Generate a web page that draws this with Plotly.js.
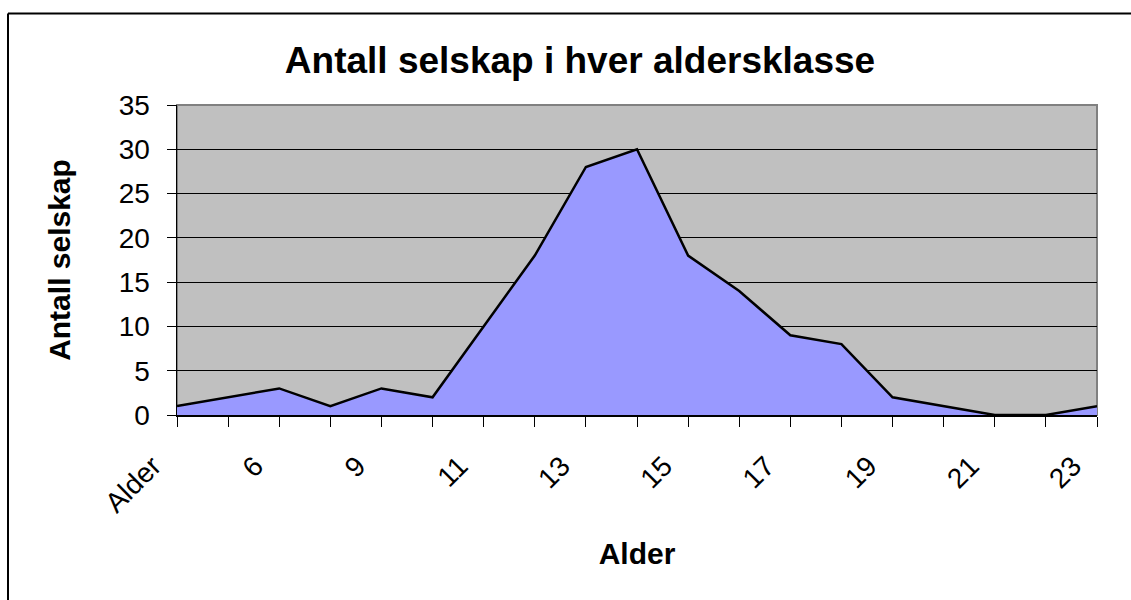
<!DOCTYPE html>
<html>
<head>
<meta charset="utf-8">
<script src="https://cdn.plot.ly/plotly-3.0.1.min.js"></script>
<style>html,body{margin:0;padding:0;background:#fff;}#chart{width:1131px;height:600px;}</style>
</head>
<body>
<div id="chart"></div>
<script>
// Age classes (every other label shown on the axis)
const categories = ['Alder','5','6','8','9','10','11','12','13','14','15','16','17','18','19','20','21','22','23'];
// Number of companies in each age class
const counts = [1, 2, 3, 1, 3, 2, 10, 18, 28, 30, 18, 14, 9, 8, 2, 1, 0, 0, 1];

const chartTitle = 'Antall selskap i hver aldersklasse';
const xTitle = 'Alder';
const yTitle = 'Antall selskap';

const W = 1131, H = 600;
const M = {l: 177, r: 34, t: 105, b: 185};
const pw = W - M.l - M.r, ph = H - M.t - M.b;
const px = v => (v - M.l) / pw;
const py = v => (H - M.b - v) / ph;

const font = '"Liberation Sans", Arial, sans-serif';

const trace = {
  type: 'scatter',
  mode: 'lines',
  x: categories,
  y: counts,
  fill: 'tozeroy',
  fillcolor: '#9999FF',
  line: {color: '#000000', width: 2.5},
  hoverinfo: 'x+y'
};

const layout = {
  width: W, height: H,
  margin: M,
  paper_bgcolor: '#ffffff',
  plot_bgcolor: '#C0C0C0',
  showlegend: false,
  font: {family: font, color: '#000'},
  title: {
    text: chartTitle,
    font: {family: font, size: 37, color: '#000', weight: 'bold'},
    xref: 'container', yref: 'container',
    x: 580 / W, xanchor: 'center',
    y: 1 - 60 / H, yanchor: 'middle'
  },
  xaxis: {
    type: 'category',
    range: [0, categories.length - 1],
    tickmode: 'linear', dtick: 1, tick0: 0,
    ticklabelstep: 2,
    tickangle: -45,
    ticks: 'outside', ticklen: 10, tickwidth: 1, tickcolor: '#000',
    tickfont: {family: font, size: 28, color: '#000'},
    ticklabelstandoff: 12,
    ticklabelshift: -24,
    showline: true, linecolor: '#000', linewidth: 1.5,
    showgrid: false, zeroline: false,
    automargin: false,
    title: {text: xTitle, font: {family: font, size: 30, color: '#000', weight: 'bold'}, standoff: 25}
  },
  yaxis: {
    range: [0, 35],
    tickmode: 'linear', dtick: 5, tick0: 0,
    ticks: 'outside', ticklen: 9, tickwidth: 1, tickcolor: '#000',
    tickfont: {family: font, size: 28, color: '#000'},
    ticklabelstandoff: 11,
    showline: true, linecolor: '#000', linewidth: 1.5,
    showgrid: true, gridcolor: '#000', gridwidth: 1,
    zeroline: false,
    automargin: false,
    title: {text: yTitle, font: {family: font, size: 30, color: '#000', weight: 'bold'}, standoff: 39}
  },
  shapes: [
    // plot area border (grey)
    {type: 'rect', xref: 'paper', yref: 'paper', x0: 0, x1: 1, y0: 0, y1: 1,
     line: {color: '#808080', width: 2}, fillcolor: 'rgba(0,0,0,0)', layer: 'below'},
    // outer chart frame (top and left edges visible)
    {type: 'line', xref: 'paper', yref: 'paper', x0: px(8), x1: px(1140), y0: py(13.5), y1: py(13.5),
     line: {color: '#000', width: 2}},
    {type: 'line', xref: 'paper', yref: 'paper', x0: px(8), x1: px(8), y0: py(13.5), y1: py(620),
     line: {color: '#000', width: 2}}
  ]
};

Plotly.newPlot('chart', [trace], layout, {displayModeBar: false, staticPlot: true});
</script>
</body>
</html>
